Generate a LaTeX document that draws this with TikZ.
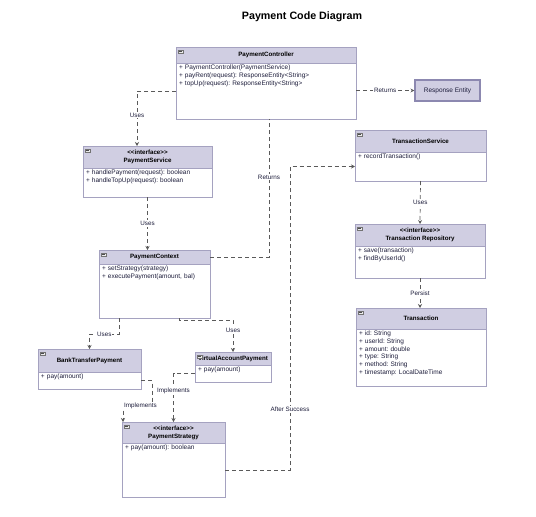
\documentclass[tikz,border=0pt]{standalone}
\usepackage{fontspec}
\setsansfont{Liberation Sans}
\usetikzlibrary{arrows.meta,positioning,calc}
\definecolor{headfill}{HTML}{D0CEE2}
\definecolor{headline}{RGB}{165,162,192}
\definecolor{respline}{RGB}{140,136,176}
\definecolor{memtext}{RGB}{30,30,60}
\definecolor{linkgray}{RGB}{90,90,90}
\tikzset{
    every node/.append style={font=\sffamily}}
\newcommand{\ops}[2]{\parbox[t][#1][t]{\linewidth}{\raggedright\frenchspacing #2}}
\newcommand{\stereo}{{<}{<}interface{>}{>}}

\begin{document}
\begin{tikzpicture}[x=1pt,y=-1pt,
    head/.style={draw=headline, line width=0.6pt, fill=headfill, align=center, inner xsep=1pt, inner ysep=1pt, outer sep=0pt, anchor=north west, font=\sffamily\bfseries\fontsize{6.2}{8}\selectfont},
    body/.style={draw=headline, line width=0.6pt, fill=white, align=left, inner xsep=3pt, inner ysep=2pt, outer sep=0pt, below=0pt of #1, text=memtext, font=\sffamily\fontsize{6.5}{7.7}\selectfont},
    fold/.style={draw=black!55, fill=black!8, line width=0.3pt, minimum width=4.5pt, minimum height=3.5pt, inner sep=0pt, path picture={\draw[black!70, line width=0.4pt] ([xshift=1pt]path picture bounding box.west) -- ([xshift=-1pt]path picture bounding box.east);}},
    link/.style={draw=linkgray, line width=0.7pt, dash pattern=on 4pt off 3pt, -{Stealth[length=4pt,width=4pt]}},
    backlink/.style={link, -},
    lbl/.style={fill=white, inner sep=1pt, text=memtext, font=\sffamily\fontsize{6.3}{7}\selectfont}]
    \useasboundingbox (0,0) rectangle (536,517);

    \node[font=\sffamily\bfseries\fontsize{10.7}{12}\selectfont] (title) at (302,17) {Payment Code Diagram};

    % classes
    \node[head, minimum width=180, minimum height=16] (ctrl) at (176,47) {PaymentController};
    \node[body=ctrl, text width=174pt] (ctrl-b) {\ops{52pt}{+ PaymentController(PaymentService)\\ + payRent(request): ResponseEntity<String>\\ + topUp(request): ResponseEntity<String>}};

    \node[draw=respline, line width=1.1pt, fill=headfill, minimum width=65, minimum height=21, text=memtext, font=\sffamily\fontsize{6.5}{8}\selectfont] (resp) at (447.5,90.5) {Response Entity};

    \node[head, minimum width=129, minimum height=22] (psvc) at (83,146) {\stereo\\ PaymentService};
    \node[body=psvc, text width=123pt] (psvc-b) {\ops{25pt}{+ handlePayment(request): boolean\\ + handleTopUp(request): boolean}};

    \node[head, minimum width=111, minimum height=14] (pctx) at (99,250) {PaymentContext};
    \node[body=pctx, text width=105pt] (pctx-b) {\ops{50pt}{+ setStrategy(strategy)\\ + executePayment(amount, bal)}};

    \node[head, minimum width=131, minimum height=22] (tsvc) at (355,130) {TransactionService};
    \node[body=tsvc, text width=125pt] (tsvc-b) {\ops{25pt}{+ recordTransaction()}};

    \node[head, minimum width=130, minimum height=22] (trepo) at (355,224) {\stereo\\ Transaction Repository};
    \node[body=trepo, text width=124pt] (trepo-b) {\ops{28pt}{+ save(transaction)\\ + findByUserId()}};

    \node[head, minimum width=130, minimum height=21] (trans) at (356,308) {Transaction};
    \node[body=trans, text width=124pt] (trans-b) {\ops{53pt}{+ id: String\\ + userId: String\\ + amount: double\\ + type: String\\ + method: String\\ + timestamp: LocalDateTime}};

    \node[head, minimum width=103, minimum height=23] (btp) at (38,349) {BankTransferPayment};
    \node[body=btp, text width=97pt] (btp-b) {\ops{13pt}{+ pay(amount)}};

    \node[head, minimum width=76, minimum height=13] (vap) at (195,352) {VirtualAccountPayment};
    \node[body=vap, text width=70pt] (vap-b) {\ops{13pt}{+ pay(amount)}};

    \node[head, minimum width=103, minimum height=21] (pstr) at (122,422) {\stereo\\ PaymentStrategy};
    \node[body=pstr, text width=97pt] (pstr-b) {\ops{50pt}{+ pay(amount): boolean}};

    \foreach \n in {ctrl,psvc,pctx,tsvc,trepo,trans,btp,vap,pstr}
        \node[fold] (\n-fold) at ([xshift=4.5pt,yshift=-4.5pt]\n.north west) {};

    % relations
    \draw[link] (resp.west -| ctrl-b.east) -- node[lbl] {Returns} (resp.west);
    \draw[link] (ctrl-b.west) -| node[lbl, pos=0.72] {Uses} ([xshift=-10.5pt]psvc.north);
    \draw[link] (psvc-b.south) -- node[lbl] {Uses} (psvc-b.south |- pctx.north);
    \draw[backlink] (pctx.east) -| node[lbl, pos=0.79] {Returns} ([xshift=3pt]ctrl-b.south);
    \draw[link] ([xshift=-35.5pt]pctx-b.south) -- ++(0,16) -| node[lbl, pos=0.25] {Uses} (btp.north);
    \draw[link] ([xshift=24.5pt]pctx-b.south) -- ++(0,2) -| node[lbl, pos=0.66] {Uses} (vap.north);
    \draw[link] (btp-b.east) -- ++(11,0) -- ++(0,25) -| node[lbl, pos=0.2] {Implements} ([xshift=-50.5pt]pstr.north);
    \draw[link] (vap-b.west) -| node[lbl, pos=0.68] {Implements} (pstr.north);
    \draw[link] (pstr-b.east) -| node[lbl, pos=0.6] {After Success} ([xshift=-65pt]tsvc-b.west) -- (tsvc-b.west);
    \draw[link] (tsvc-b.south) -- node[lbl] {Uses} (trepo.north);
    \draw[link] (trepo-b.south) -- node[lbl] {Persist} (trans.north -| trepo-b.south);
\end{tikzpicture}
\end{document}
